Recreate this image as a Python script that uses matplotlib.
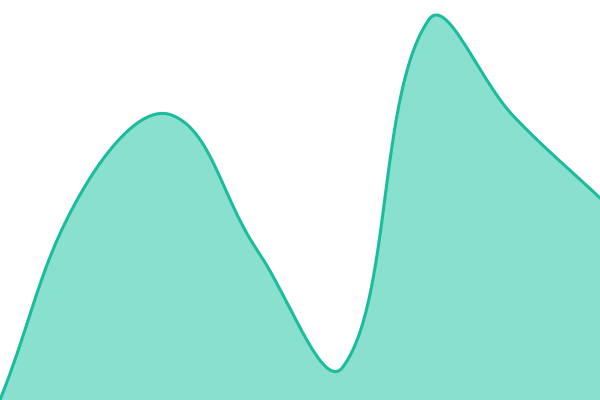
import numpy as np
import matplotlib
matplotlib.use("Agg")
import matplotlib.pyplot as plt

# data (value scale 0..400, evenly spaced points)
categories = list(range(8))
values = [0, 215, 285, 150, 33, 380, 283, 202]

LINE = "#1abc9c"
FILL = "#8ae0ce"
TENSION = 0.4


def spline_curve(pts, t=TENSION, n=60):
    """Chart.js-style spline through display-space points."""
    pts = np.asarray(pts, float)
    k = len(pts)
    cps = []
    for i in range(k):
        prev = pts[max(i - 1, 0)]
        cur = pts[i]
        nxt = pts[min(i + 1, k - 1)]
        d01 = np.hypot(*(cur - prev))
        d12 = np.hypot(*(nxt - cur))
        tot = d01 + d12
        s01 = d01 / tot if tot else 0
        s12 = d12 / tot if tot else 0
        fa = t * s01
        fb = t * s12
        cp_prev = cur - fa * (nxt - prev)
        cp_next = cur + fb * (nxt - prev)
        cps.append((cp_prev, cp_next))
    out = [pts[0]]
    u = np.linspace(0, 1, n)[1:, None]
    for i in range(k - 1):
        p0 = pts[i]
        c1 = cps[i][1]
        c2 = cps[i + 1][0]
        p3 = pts[i + 1]
        seg = ((1 - u) ** 3) * p0 + 3 * ((1 - u) ** 2) * u * c1 + 3 * (1 - u) * u ** 2 * c2 + u ** 3 * p3
        out.extend(seg)
    return np.array(out)


fig = plt.figure(figsize=(6, 4), dpi=100)
ax = fig.add_axes([0, 0, 1, 1])
ax.set_xlim(categories[0], categories[-1])
ax.set_ylim(0, 400)
ax.axis("off")

disp = ax.transData.transform(np.column_stack([categories, values]))
curve_disp = spline_curve(disp)
curve = ax.transData.inverted().transform(curve_disp)

ax.fill_between(curve[:, 0], curve[:, 1], 0, color=FILL, linewidth=0)
ax.plot(curve[:, 0], curve[:, 1], color=LINE, linewidth=2.2, solid_capstyle="round")
fig.savefig("out.png", dpi=100)
